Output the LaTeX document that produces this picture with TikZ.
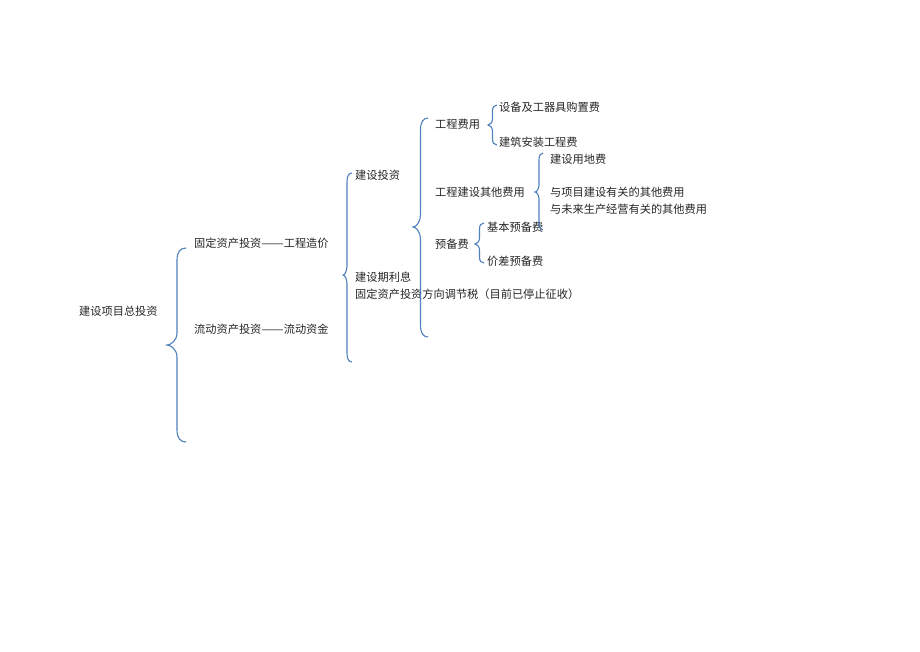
\documentclass[tikz,border=0pt]{standalone}
\usepackage{fontspec}
\usepackage{graphicx}
\newfontfamily\cjk{Noto Sans CJK SC}
\definecolor{bracecol}{HTML}{4F81BD}
\newcommand\dd{\resizebox{2em}{\height}{——}}
\newcommand\mybrace[7]{% xend, xspine, xtip, ytop, ytip, ybot, r
  \draw[bracestyle] ({#1},{#4}) .. controls ({#2+0.35*(#1-#2)},{#4}) and ({#2},{#4+0.35*#7}) .. ({#2},{#4+#7})
    -- ({#2},{#5-#7}) .. controls ({#2},{#5-0.4*#7}) and ({#3+0.4*(#2-#3)},{#5}) .. ({#3},{#5})
    .. controls ({#3+0.4*(#2-#3)},{#5}) and ({#2},{#5+0.4*#7}) .. ({#2},{#5+#7})
    -- ({#2},{#6-#7}) .. controls ({#2},{#6-0.35*#7}) and ({#2+0.35*(#1-#2)},{#6}) .. ({#1},{#6});
}
\tikzset{
  bracestyle/.style={draw=bracecol, line width=1.1pt},
  lbl/.style={anchor=west, inner sep=0pt, font=\cjk\fontsize{11.2}{12}\selectfont, text=black!85}
}
\begin{document}
\begin{tikzpicture}[x=1pt,y=-1pt]
\useasboundingbox[fill=white] (0,0) rectangle (920,651);
% labels
\node[lbl] (root) at (79,311) {建设项目总投资};
\node[lbl] (fixed) at (194,243) {固定资产投资\dd 工程造价};
\node[lbl] (flow) at (194,329) {流动资产投资\dd 流动资金};
\node[lbl] (jstz) at (355,175) {建设投资};
\node[lbl] (jsqlx) at (355,277) {建设期利息};
\node[lbl] (tjs) at (355,294) {固定资产投资方向调节税（目前已停止征收）};
\node[lbl] (gcfy) at (435,124) {工程费用};
\node[lbl] (qtfy) at (435,192) {工程建设其他费用};
\node[lbl] (ybf) at (435,244) {预备费};
\node[lbl] (sbgj) at (499,107) {设备及工器具购置费};
\node[lbl] (jzaz) at (499,142) {建筑安装工程费};
\node[lbl] (ydf) at (550,159) {建设用地费};
\node[lbl] (xmjs) at (550,192) {与项目建设有关的其他费用};
\node[lbl] (wlsc) at (550,209) {与未来生产经营有关的其他费用};
\node[lbl] (jbyb) at (487,227) {基本预备费};
\node[lbl] (jcyb) at (487,261) {价差预备费};
% braces
\mybrace{186}{177}{167}{248}{345}{442}{12}
\mybrace{352}{347}{343}{173}{275}{362}{9}
\mybrace{428}{420.5}{413}{118}{227}{337}{12}
\mybrace{497}{492.5}{488}{105}{125}{145}{6}
\mybrace{543}{539}{535}{153}{192}{230}{7}
\mybrace{484}{479.5}{475}{223}{244}{263}{6}
\end{tikzpicture}
\end{document}
